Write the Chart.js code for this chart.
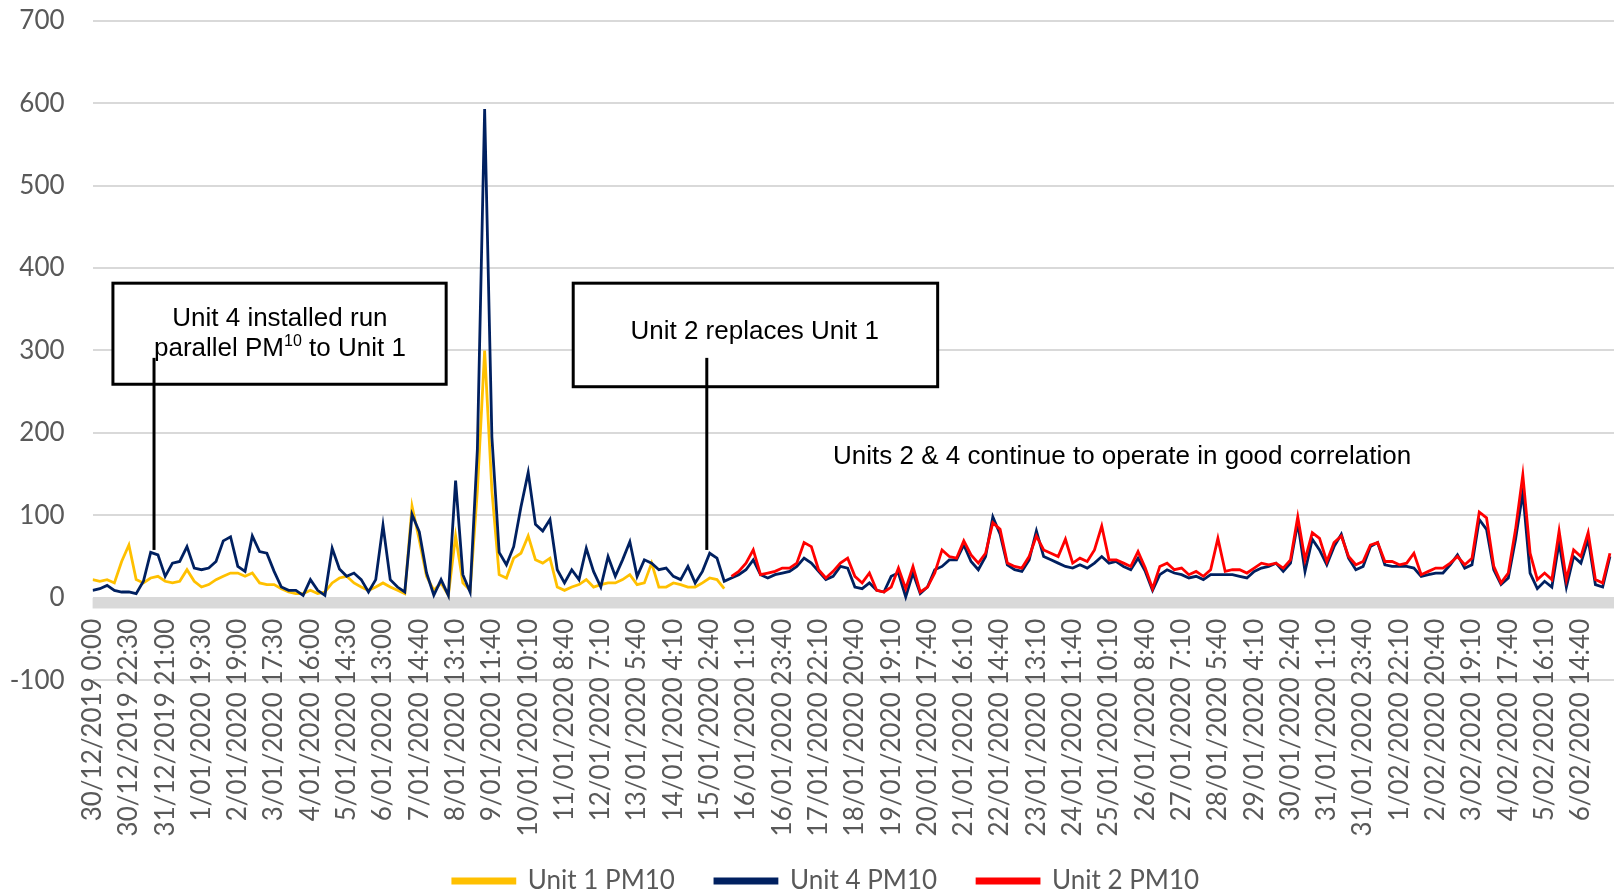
<!DOCTYPE html>
<html>
<head>
<meta charset="utf-8">
<script src="https://cdn.jsdelivr.net/npm/chart.js@4.4.1/dist/chart.umd.min.js"></script>
<style>
  html, body { margin: 0; padding: 0; background: #fff; overflow: hidden; }
  #wrap { width: 1614px; height: 904px; }
</style>
</head>
<body>
<div id="wrap"><canvas id="pmChart"></canvas></div>
<script>
// one x step = 4.5 h of 10-minute readings, a date label every 5 steps
const tickLabels = [
  '30/12/2019 0:00', '30/12/2019 22:30', '31/12/2019 21:00', '1/01/2020 19:30', '2/01/2020 19:00',
  '3/01/2020 17:30', '4/01/2020 16:00', '5/01/2020 14:30', '6/01/2020 13:00', '7/01/2020 14:40',
  '8/01/2020 13:10', '9/01/2020 11:40', '10/01/2020 10:10', '11/01/2020 8:40', '12/01/2020 7:10',
  '13/01/2020 5:40', '14/01/2020 4:10', '15/01/2020 2:40', '16/01/2020 1:10', '16/01/2020 23:40',
  '17/01/2020 22:10', '18/01/2020 20:40', '19/01/2020 19:10', '20/01/2020 17:40', '21/01/2020 16:10',
  '22/01/2020 14:40', '23/01/2020 13:10', '24/01/2020 11:40', '25/01/2020 10:10', '26/01/2020 8:40',
  '27/01/2020 7:10', '28/01/2020 5:40', '29/01/2020 4:10', '30/01/2020 2:40', '31/01/2020 1:10',
  '31/01/2020 23:40', '1/02/2020 22:10', '2/02/2020 20:40', '3/02/2020 19:10', '4/02/2020 17:40',
  '5/02/2020 16:10', '6/02/2020 14:40'
];
const stepsPerLabel = 5;
const lastStep = 209.56;

// Unit 1 PM10, steps 0..87
const unit1 = [
  22, 20, 22, 18, 44, 64, 22, 18, 24, 26, 20, 18, 20, 34, 20, 13, 16, 22, 26, 30,
  30, 26, 30, 18, 16, 16, 11, 7, 5, 5, 9, 5, 7, 18, 24, 26, 18, 13, 9, 13,
  18, 13, 9, 5, 111, 70, 26, 9, 18, 3, 75, 18, 9, 130, 300, 130, 28, 24, 48, 54,
  75, 46, 42, 48, 13, 9, 13, 16, 22, 13, 16, 18, 18, 22, 28, 16, 18, 42, 13, 13,
  18, 16, 13, 13, 18, 24, 22, 11
];

// Unit 4 PM10, steps 0..209
const unit4 = [
  9, 11, 15, 9, 7, 7, 5, 20, 55, 52, 26, 42, 44, 62, 36, 34, 36, 44, 69, 74,
  38, 32, 75, 56, 54, 32, 13, 9, 9, 3, 22, 9, 3, 60, 35, 26, 30, 22, 7, 22,
  88, 22, 13, 7, 101, 80, 30, 3, 22, 3, 142, 28, 7, 180, 593, 195, 55, 40, 62, 110,
  152, 89, 81, 95, 34, 18, 34, 22, 60, 32, 13, 50, 26, 46, 68, 26, 46, 42, 34, 36,
  26, 22, 38, 18, 32, 54, 48, 20, 24, 28, 34, 46, 28, 24, 28, 30, 32, 38, 48, 42,
  32, 22, 26, 38, 36, 13, 11, 18, 9, 7, 26, 30, 1, 30, 5, 13, 34, 38, 46, 46,
  64, 44, 34, 50, 98, 77, 40, 34, 32, 46, 81, 50, 46, 42, 38, 36, 40, 36, 42, 50,
  42, 44, 38, 34, 48, 32, 9, 28, 34, 30, 28, 24, 26, 22, 28, 28, 28, 28, 26, 24,
  32, 36, 38, 42, 32, 42, 91, 32, 71, 58, 40, 62, 77, 48, 34, 38, 62, 67, 40, 38,
  38, 38, 36, 26, 28, 30, 30, 40, 52, 36, 40, 95, 83, 34, 16, 24, 71, 128, 30, 11,
  20, 13, 67, 13, 50, 42, 71, 16, 13, 50
];

// Unit 2 PM10, steps 88..209
const unit2Start = 88;
const unit2 = [
  26, 32, 42, 58, 28, 30, 32, 36, 36, 42, 67, 62, 34, 24, 32, 42, 48, 26, 18, 30,
  9, 7, 13, 36, 11, 38, 7, 13, 30, 58, 50, 48, 69, 52, 42, 54, 91, 83, 42, 38,
  36, 50, 75, 58, 54, 50, 71, 42, 48, 44, 58, 87, 46, 46, 42, 38, 56, 36, 11, 38,
  42, 34, 36, 28, 32, 26, 34, 72, 32, 34, 34, 30, 36, 42, 40, 42, 36, 46, 98, 46,
  79, 72, 44, 67, 75, 50, 40, 44, 64, 67, 44, 44, 40, 42, 54, 28, 32, 36, 36, 42,
  50, 40, 48, 104, 97, 38, 18, 30, 83, 149, 54, 22, 30, 22, 81, 22, 58, 50, 79, 22,
  18, 54
];

// callouts, in chart units (x step, PM10 value)
const noteBoxes = [
  { x0: 2.8, x1: 48.7, y0: 381.6, y1: 259 },
  { x0: 66.2, x1: 116.4, y0: 381.6, y1: 256 }
];
const noteLeaders = [
  { x: 8.46, y0: 291, y1: 58 },
  { x: 84.6, y0: 291, y1: 58 }
];
const noteTexts = [
  { x: 25.8, y: 330, runs: [{ t: 'Unit 4 installed run' }] },
  { x: 25.8, y: 293, runs: [{ t: 'parallel PM' }, { t: '10', sup: true }, { t: ' to Unit 1' }] },
  { x: 91.2, y: 314, runs: [{ t: 'Unit 2 replaces Unit 1' }] },
  { x: 141.8, y: 162, runs: [{ t: 'Units 2 & 4 continue to operate in good correlation' }] }
];
const axisBandDepth = -13;
const legendShift = 19;

const noteFont = '26px "Liberation Sans", Arial, sans-serif';
const supFont = '16px "Liberation Sans", Arial, sans-serif';
const labelFont = { family: 'Lato, "Open Sans", sans-serif', size: 26 };

const toPoints = (values, start) => values.map((v, i) => ({ x: start + i, y: v }));

const notesPlugin = {
  id: 'notes',
  afterLayout(chart) {
    // the original legend sits a little right of centre
    chart.legend.left += legendShift;
    chart.legend.right += legendShift;
  },
  beforeDatasetsDraw(chart) {
    const { ctx, chartArea, scales: { y } } = chart;
    const top = y.getPixelForValue(0);
    const bottom = y.getPixelForValue(axisBandDepth);
    ctx.save();
    ctx.fillStyle = '#d9d9d9';
    ctx.fillRect(chartArea.left, top, chartArea.right - chartArea.left, bottom - top);
    ctx.restore();
  },
  afterDatasetsDraw(chart) {
    const { ctx, scales: { x, y } } = chart;
    ctx.save();
    ctx.strokeStyle = '#000';
    ctx.lineWidth = 3;
    noteBoxes.forEach(b => {
      const l = x.getPixelForValue(b.x0), r = x.getPixelForValue(b.x1);
      const t = y.getPixelForValue(b.y0), bt = y.getPixelForValue(b.y1);
      ctx.fillStyle = '#fff';
      ctx.fillRect(l, t, r - l, bt - t);
      ctx.strokeRect(l, t, r - l, bt - t);
    });
    noteLeaders.forEach(ln => {
      const px = x.getPixelForValue(ln.x);
      ctx.beginPath();
      ctx.moveTo(px, y.getPixelForValue(ln.y0));
      ctx.lineTo(px, y.getPixelForValue(ln.y1));
      ctx.stroke();
    });
    ctx.fillStyle = '#000';
    ctx.textAlign = 'left';
    ctx.textBaseline = 'alphabetic';
    noteTexts.forEach(n => {
      const widths = n.runs.map(r => {
        ctx.font = r.sup ? supFont : noteFont;
        return ctx.measureText(r.t).width;
      });
      let px = x.getPixelForValue(n.x) - widths.reduce((a, b) => a + b, 0) / 2;
      const base = y.getPixelForValue(n.y);
      n.runs.forEach((r, i) => {
        ctx.font = r.sup ? supFont : noteFont;
        ctx.fillText(r.t, px, r.sup ? base - 10 : base);
        px += widths[i];
      });
    });
    ctx.restore();
  }
};

const legendRank = { 'Unit 1 PM10': 0, 'Unit 4 PM10': 1, 'Unit 2 PM10': 2 };

new Chart(document.getElementById('pmChart'), {
  type: 'line',
  data: {
    datasets: [{
      label: 'Unit 2 PM10',
      data: toPoints(unit2, unit2Start),
      borderColor: '#FF0000',
      backgroundColor: '#FF0000'
    }, {
      label: 'Unit 4 PM10',
      data: toPoints(unit4, 0),
      borderColor: '#002060',
      backgroundColor: '#002060'
    }, {
      label: 'Unit 1 PM10',
      data: toPoints(unit1, 0),
      borderColor: '#FFC000',
      backgroundColor: '#FFC000'
    }]
  },
  options: {
    responsive: true,
    maintainAspectRatio: false,
    animation: false,
    devicePixelRatio: 1,
    layout: { padding: { top: 20.7, left: 0, right: 0, bottom: 0 } },
    elements: {
      point: { radius: 0 },
      line: { borderWidth: 2.8, tension: 0, fill: false }
    },
    plugins: {
      tooltip: { enabled: false },
      legend: {
        position: 'bottom',
        labels: {
          color: '#595959',
          font: labelFont,
          boxWidth: 62,
          boxHeight: 4,
          padding: 40,
          sort: (a, b) => legendRank[a.text] - legendRank[b.text]
        }
      }
    },
    scales: {
      // date axis crosses the value axis at 0, as in the original
      x: {
        type: 'linear',
        position: { y: 0 },
        min: 0,
        max: lastStep,
        grid: { display: false, drawTicks: false },
        border: { display: false },
        afterBuildTicks: scale => {
          scale.ticks = scale.ticks.filter(t => t.value % stepsPerLabel === 0);
        },
        afterFit: scale => {
          scale.paddingLeft = 0;
          scale.paddingRight = 0;
        },
        ticks: {
          stepSize: stepsPerLabel,
          autoSkip: false,
          minRotation: 90,
          maxRotation: 90,
          padding: 21,
          color: '#595959',
          font: labelFont,
          callback: value => tickLabels[value / stepsPerLabel] || ''
        }
      },
      // empty axis that only keeps room for the date labels above the legend
      xRoom: {
        type: 'linear',
        position: 'bottom',
        ticks: { display: false },
        grid: { display: false },
        border: { display: false },
        afterFit: scale => { scale.height = 147.8; }
      },
      y: {
        min: -100,
        max: 700,
        grid: { color: '#d9d9d9', lineWidth: 2, drawTicks: false },
        border: { display: false },
        afterFit: scale => {
          scale.width = 92.6;
          scale.paddingTop = 0;
          scale.paddingBottom = 0;
        },
        ticks: {
          stepSize: 100,
          padding: 28,
          color: '#595959',
          font: labelFont
        }
      }
    }
  },
  plugins: [notesPlugin]
});
</script>
</body>
</html>
